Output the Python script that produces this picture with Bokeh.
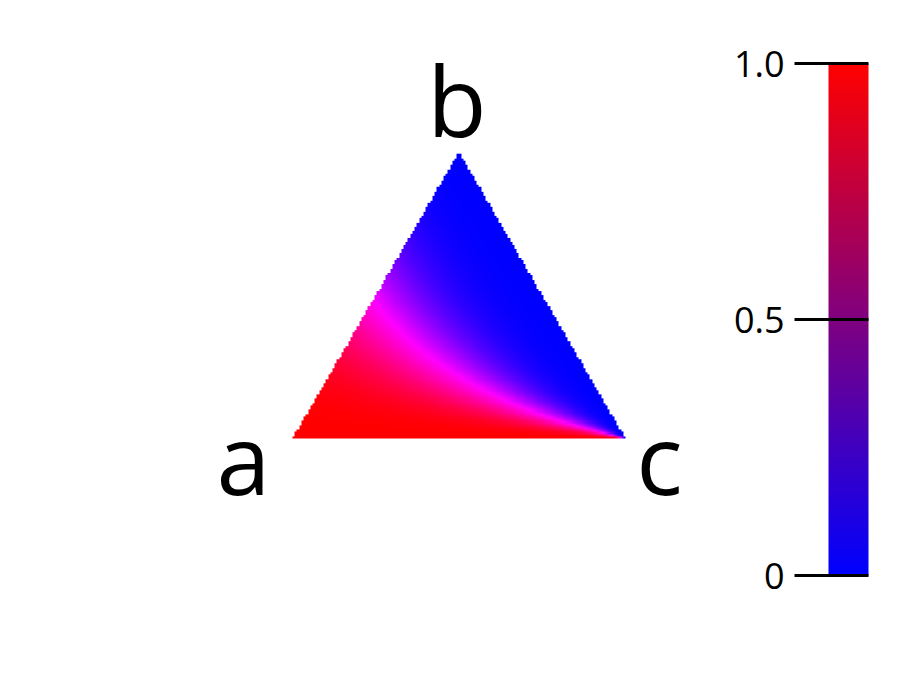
import numpy as np
from bokeh.plotting import figure
from bokeh.models import Range1d, LinearColorMapper
from bokeh.core.properties import value
from bokeh.embed import file_html
from bokeh.resources import INLINE

# ---- data ----
corner_labels = ["a", "b", "c"]
# where the colour is half-way (magenta): ratio a/b as a function of c
mid_c = [0.0, 0.132, 0.352, 0.55, 0.735, 1.0]
mid_ratio = [1.07, 1.30, 1.72, 2.15, 2.63, 3.2]
steepness = 2.2
cbar_ticks = [0, 0.5, 1.0]
cbar_tick_labels = ["0", "0.5", "1.0"]
cbar_low_color = (0, 0, 255)
cbar_high_color = (255, 0, 0)

FONT = "Open Sans"
H = np.sqrt(3) / 2
W, HT = 901, 672

# ---- ternary field image ----
nx = 150
ny = int(round(nx * H))
X = (np.arange(nx) + 0.5) / nx
Y = (np.arange(ny) + 0.5) / ny * H
XX, YY = np.meshgrid(X, Y)
bb = YY / H
cc = XX - bb / 2
aa = 1 - bb - cc
inside = (aa >= 0) & (cc >= 0) & (bb >= 0)
s = np.interp(np.clip(cc, 0, 1), mid_c, mid_ratio)
A = np.clip(aa, 0, None) ** steepness
B = (s * np.clip(bb, 0, None)) ** steepness
den = A + B
f = np.where(den > 0, A / np.where(den > 0, den, 1), 0.5)
rgba = np.zeros((ny, nx, 4), dtype=np.uint8)
rgba[..., 0] = (np.clip(2 * f, 0, 1) * 255).astype(np.uint8)
rgba[..., 2] = (np.clip(2 * (1 - f), 0, 1) * 255).astype(np.uint8)
rgba[..., 3] = np.where(inside, 255, 0)
img = rgba.view(np.uint32).reshape(ny, nx)

kx = 333.0
ky = 330.0
ax0, ay0 = 292, 438  # screen position of corner a inside the figure
p = figure(width=W, height=HT, output_backend="svg", toolbar_location=None,
           x_range=Range1d(-ax0 / kx, (W - ax0) / kx),
           y_range=Range1d((ay0 - HT) / ky, ay0 / ky),
           x_axis_location=None, y_axis_location=None, min_border=0,
           title=None)
p.grid.visible = False
p.outline_line_color = None
p.image_rgba(image=[img], x=0, y=0, dw=1, dh=H)

label_x = [-49 / kx, 0.5 - 2 / kx, 1 + 34 / kx]
label_y = [-18 / ky, 340 / ky, -18 / ky]
p.text(x=label_x, y=label_y, text=corner_labels, text_font=value(FONT),
       text_font_size="97px", text_align="center", text_baseline="alphabetic",
       text_color="black")

# ---- colour bar (own ranges) ----
bx0, bw = 828, 40     # bar left and width in screen px
by0, bh = 63, 512     # bar top and height in screen px
p.extra_x_ranges = {"cbx": Range1d(-bx0 / bw, (W - bx0) / bw)}
p.extra_y_ranges = {"cby": Range1d(1 - (HT - by0) / bh, 1 + by0 / bh)}

ts = np.linspace(0, 1, 256)
lo = np.array(cbar_low_color)
hi = np.array(cbar_high_color)
palette = ["#%02x%02x%02x" % tuple(int(round(v)) for v in (lo + (hi - lo) * t)) for t in ts]
grad = ts.reshape(256, 1)
p.image(image=[grad], x=0, y=0, dw=1, dh=1,
        color_mapper=LinearColorMapper(palette=palette, low=0, high=1),
        x_range_name="cbx", y_range_name="cby")

tick_out = 34 / bw
n = len(cbar_ticks)
p.segment(x0=[-tick_out] * n, y0=cbar_ticks, x1=[1.0] * n, y1=cbar_ticks,
          line_color="black", line_width=3,
          x_range_name="cbx", y_range_name="cby")
p.text(x=[-tick_out - 10 / bw] * n, y=cbar_ticks, text=cbar_tick_labels,
       text_font=value(FONT), text_font_size="36px", text_align="right",
       text_baseline="middle", text_color="black",
       x_range_name="cbx", y_range_name="cby")

open("out.html", "w").write(file_html(p, INLINE))
